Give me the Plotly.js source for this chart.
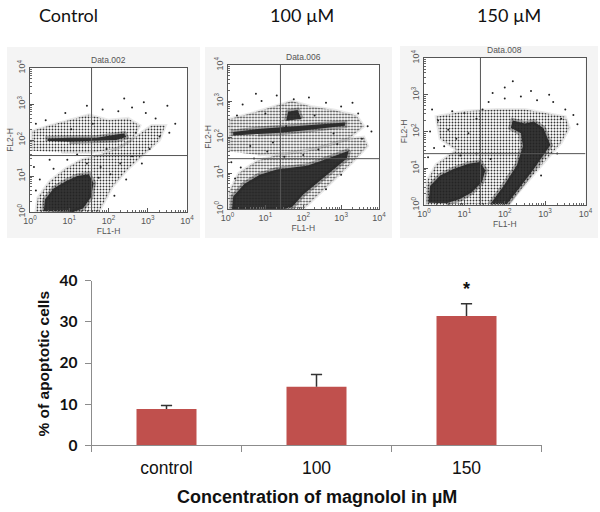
<!DOCTYPE html>
<html>
<head>
<meta charset="utf-8">
<script src="https://cdn.plot.ly/plotly-3.0.1.min.js"></script>
<style>html,body{margin:0;padding:0;background:#fff}#chart{width:600px;height:512px}</style>
</head>
<body>
<div id="chart"></div>
<script>
// ---------- Bar chart data ----------
const categories = ['control', '100', '150'];
const apoptosisPct = [8.8, 14.2, 31.4];
const apoptosisErr = [0.85, 3.0, 3.0];
const sigMarks = ['', '', '*'];

// ---------- Flow cytometry panels ----------
const panelTitles = ['Control', '100 µM', '150 µM'];
const dataLabels = ['Data.002', 'Data.006', 'Data.008'];
const quadFL1 = [37, 25, 25];
const quadFL2 = [37, 25, 25];
const decadeVals = [1, 10, 100, 1000, 10000];
const decadeText = ['10<sup>0</sup>', '10<sup>1</sup>', '10<sup>2</sup>', '10<sup>3</sup>', '10<sup>4</sup>'];

// density regions, estimated outlines as [log10 FL1, log10 FL2]
const ctrlLowHalo = [[0.15,0],[0.2,0.4],[0.5,0.85],[0.9,1.2],[1.3,1.45],[1.8,1.6],[2.3,1.8],[2.7,2.1],[3.1,2.4],[3.45,2.4],[3.3,2.0],[2.9,1.6],[2.5,1.2],[2.1,0.7],[1.9,0.3],[1.75,0]];
const ctrlLowCore = [[0.35,0.02],[0.38,0.35],[0.6,0.65],[0.9,0.85],[1.2,1.0],[1.5,1.05],[1.62,0.8],[1.55,0.4],[1.35,0.1],[1.1,0]];
const ctrlUpHalo = [[0.05,1.7],[0.05,2.25],[0.5,2.4],[1.0,2.55],[1.5,2.7],[2.0,2.55],[2.5,2.6],[2.8,2.4],[2.6,2.0],[2.2,1.75],[1.6,1.65],[0.8,1.65]];
const ctrlUpCore = [[0.45,1.97],[0.45,2.04],[1.0,2.06],[1.7,2.06],[2.2,2.15],[2.4,2.18],[2.45,2.08],[2.2,2.0],[1.6,1.98],[1.0,1.95]];
const ctrlDots = [[0.1,1.25],[0.25,0.9],[0.15,0.6],[0.6,1.2],[0.95,1.45],[1.2,1.6],[1.45,1.35],[1.8,1.25],[2.05,1.05],[2.3,1.35],[2.45,0.9],[2.6,1.55],[2.85,1.35],[3.05,1.75],[3.3,2.1],[3.55,2.2],[3.2,2.6],[2.95,2.75],[2.6,2.9],[2.25,2.8],[1.85,2.85],[1.45,2.95],[0.9,2.75],[0.4,2.55],[0.15,2.45],[3.5,2.95],[2.9,3.05],[1.75,0.95],[2.15,0.45],[1.95,1.75],[0.5,1.45],[1.05,2.3],[2.7,2.2],[3.7,2.45],[1.6,2.45],[2.4,3.15]];

const m100LowHalo = [[0.05,0],[0.05,0.5],[0.3,1.0],[0.8,1.35],[1.3,1.5],[2.0,1.6],[2.6,1.75],[3.2,1.95],[3.6,2.0],[3.7,1.75],[3.3,1.3],[2.8,0.8],[2.3,0.3],[2.0,0]];
const m100LowCore = [[0.12,0],[0.15,0.35],[0.45,0.7],[0.85,0.95],[1.3,1.1],[1.7,1.15],[2.1,1.2],[2.5,1.35],[2.9,1.5],[3.2,1.62],[3.15,1.4],[2.8,1.1],[2.4,0.75],[2.0,0.4],[1.7,0.05],[1.5,0]];
const m100UpHalo = [[0.05,1.6],[0.05,2.5],[0.6,2.65],[1.2,2.85],[1.7,3.0],[2.2,2.85],[2.8,2.75],[3.4,2.6],[3.6,2.3],[3.2,1.95],[2.4,1.7],[1.6,1.55],[0.8,1.5]];
const m100UpCore = [[0.15,2.04],[0.15,2.14],[0.8,2.22],[1.5,2.28],[2.0,2.31],[2.6,2.36],[3.1,2.4],[3.1,2.31],[2.6,2.24],[2.0,2.18],[1.4,2.12],[0.8,2.08]];
const m100Cluster = [[1.55,2.45],[1.6,2.7],[1.85,2.75],[1.95,2.5]];
const m100Dots = [[0.1,1.3],[0.35,1.15],[0.2,0.85],[0.7,1.4],[1.05,1.6],[1.5,1.45],[2.0,1.5],[2.4,1.65],[0.4,2.9],[0.9,3.0],[1.3,3.15],[1.75,3.05],[2.15,3.1],[2.6,2.95],[3.0,2.85],[3.45,2.65],[3.7,2.3],[3.55,1.95],[0.6,1.75],[1.2,1.85],[2.8,2.1],[2.3,2.6],[1.0,2.65],[0.25,2.6],[3.3,2.95],[1.55,2.3],[0.75,3.2],[3.8,2.15],[2.9,1.8],[3.0,0.95],[2.6,0.55]];

const m150Halo = [[0.05,0],[0.05,0.6],[0.3,1.1],[0.8,1.5],[0.4,1.8],[0.3,2.4],[1.0,2.55],[1.8,2.6],[2.5,2.6],[3.0,2.5],[3.5,2.4],[3.6,2.1],[3.4,1.7],[3.0,1.2],[2.6,0.7],[2.3,0.3],[2.1,0]];
const m150LowCore = [[0.11,0.06],[0.15,0.52],[0.4,0.8],[0.73,0.98],[1.1,1.12],[1.39,1.17],[1.52,0.94],[1.43,0.62],[1.18,0.34],[0.89,0.16],[0.56,0.05]];
const m150BandCore = [[1.64,0.02],[1.97,0.52],[2.3,1.08],[2.45,1.6],[2.4,1.95],[2.15,2.1],[2.2,2.3],[2.5,2.22],[2.72,2.27],[2.96,2.09],[3.13,1.63],[2.96,1.35],[2.72,0.98],[2.47,0.62],[2.22,0.25],[2.05,0.02]];
const m150Dots = [[0.1,1.3],[0.25,1.55],[0.15,2.0],[0.35,2.3],[0.6,2.05],[0.5,1.6],[0.8,1.8],[1.1,1.95],[1.3,2.35],[1.0,2.5],[0.7,2.55],[1.6,2.8],[2.0,2.9],[2.4,2.95],[2.8,2.85],[3.2,2.8],[3.5,2.6],[3.7,2.45],[3.8,2.2],[3.4,2.35],[2.0,3.2],[1.7,3.05],[2.65,3.1],[3.1,3.0],[1.3,1.4],[1.65,1.25],[0.9,1.35],[2.9,0.8],[3.3,1.4],[2.2,3.37],[0.2,2.6],[1.45,2.6]];

const panelHalos = [[ctrlLowHalo, ctrlUpHalo], [m100LowHalo, m100UpHalo], [m150Halo]];
const panelCores = [[ctrlLowCore, ctrlUpCore], [m100LowCore, m100UpCore, m100Cluster], [m150LowCore, m150BandCore]];
const panelDots = [ctrlDots, m100Dots, m150Dots];

// ---------- layout geometry (px in a 600x512 figure) ----------
const W = 600, H = 512;
const flowBoxes = [[30, 187, 68, 212], [227.5, 379, 65, 209], [424, 585.5, 58, 205]];
const imgBoxes = [[7, 200, 47, 238], [205, 392, 47, 238], [400, 598, 46, 238]];
const titleX = [68, 302, 509];

const pow = v => Math.pow(10, v);
const traces = [];
const layout = {
  width: W, height: H,
  margin: {l: 0, r: 0, t: 0, b: 0},
  paper_bgcolor: '#ffffff',
  plot_bgcolor: 'rgba(0,0,0,0)',
  showlegend: false,
  bargap: 0.6,
  shapes: [],
  annotations: []
};

const minorVals = [];
for (let d = 0; d < 4; d++) for (let k = 2; k <= 9; k++) minorVals.push(k * Math.pow(10, d));

const flowFont = {family: 'Liberation Sans, Arial, sans-serif', size: 8.5, color: '#555'};
const flowTick = {family: 'Liberation Sans, Arial, sans-serif', size: 9, color: '#555'};

for (let p = 0; p < 3; p++) {
  const xa = 'x' + (p + 1), ya = 'y' + (p + 1);
  const [x0, x1, y0, y1] = flowBoxes[p];
  const axCommon = {
    type: 'log', range: [0, 4], tickvals: decadeVals, ticktext: decadeText,
    ticks: 'inside', ticklen: 4, tickcolor: '#555', tickwidth: 1,
    showline: true, mirror: true, linecolor: '#555', linewidth: 1,
    showgrid: false, zeroline: false, fixedrange: true,
    tickfont: flowTick,
    minor: {tickvals: minorVals, ticks: 'inside', ticklen: 2, tickcolor: '#666', showgrid: false}
  };
  layout['xaxis' + (p + 1)] = Object.assign({}, axCommon, {
    domain: [x0 / W, x1 / W], anchor: ya,
    title: {text: 'FL1-H', font: flowFont, standoff: 0}
  });
  layout['yaxis' + (p + 1)] = Object.assign({}, axCommon, {
    domain: [1 - y1 / H, 1 - y0 / H], anchor: xa, tickangle: -90,
    title: {text: 'FL2-H', font: flowFont, standoff: 0}
  });

  const [ix0, ix1, iy0, iy1] = imgBoxes[p];
  layout.shapes.push({type: 'rect', xref: 'paper', yref: 'paper', layer: 'below',
    x0: ix0 / W, x1: ix1 / W, y0: 1 - iy1 / H, y1: 1 - iy0 / H,
    fillcolor: '#f4f4f4', line: {width: 0}});
  layout.shapes.push({type: 'rect', xref: 'paper', yref: 'paper', layer: 'below',
    x0: x0 / W, x1: x1 / W, y0: 1 - y1 / H, y1: 1 - y0 / H,
    fillcolor: '#ffffff', line: {width: 0}});

  panelHalos[p].forEach(poly => traces.push({
    type: 'scatter', mode: 'lines', xaxis: xa, yaxis: ya,
    x: poly.map(q => pow(q[0])), y: poly.map(q => pow(q[1])),
    fill: 'toself', fillcolor: 'rgba(0,0,0,0)',
    fillpattern: {shape: '.', size: 3, solidity: 0.3, fgcolor: '#333', bgcolor: 'rgba(0,0,0,0)'},
    line: {width: 3, color: 'rgba(80,80,80,0.12)'}, hoverinfo: 'skip'
  }));
  panelCores[p].forEach(poly => traces.push({
    type: 'scatter', mode: 'lines', xaxis: xa, yaxis: ya,
    x: poly.map(q => pow(q[0])), y: poly.map(q => pow(q[1])),
    fill: 'toself', fillcolor: 'rgba(0,0,0,0)',
    fillpattern: {shape: '.', size: 2, solidity: 0.8, fgcolor: '#1e1e1e', bgcolor: 'rgba(70,70,70,0.55)'},
    line: {width: 5, color: 'rgba(40,40,40,0.35)'}, hoverinfo: 'skip'
  }));
  traces.push({
    type: 'scatter', mode: 'markers', xaxis: xa, yaxis: ya,
    x: panelDots[p].map(q => pow(q[0])), y: panelDots[p].map(q => pow(q[1])),
    marker: {size: 2, color: '#222'}, hoverinfo: 'skip'
  });
  traces.push({type: 'scatter', mode: 'lines', xaxis: xa, yaxis: ya,
    x: [quadFL1[p], quadFL1[p]], y: [1, 10000], line: {color: '#555', width: 1}, hoverinfo: 'skip'});
  traces.push({type: 'scatter', mode: 'lines', xaxis: xa, yaxis: ya,
    x: [1, 10000], y: [quadFL2[p], quadFL2[p]], line: {color: '#555', width: 1}, hoverinfo: 'skip'});

  layout.annotations.push({xref: 'paper', yref: 'paper', x: (x0 + x1) / 2 / W, y: 1 - (y0 - 1) / H,
    xanchor: 'center', yanchor: 'bottom', text: dataLabels[p], showarrow: false, font: flowFont});
  layout.annotations.push({xref: 'paper', yref: 'paper', x: titleX[p] / W, y: 1 - 15 / H,
    xanchor: 'center', yanchor: 'middle', text: panelTitles[p], showarrow: false,
    font: {family: 'Lato, Carlito, sans-serif', size: 18, color: '#111'}});
}

// ---------- bar chart ----------
traces.push({
  type: 'bar', x: categories, y: apoptosisPct, xaxis: 'x4', yaxis: 'y4',
  marker: {color: '#C0504D', line: {width: 0}},
  hoverinfo: 'skip'
});
// upward-only error bars: stem from bar top to top of error
const errX = [], errY = [];
categories.forEach((c, i) => { errX.push(c, c, null); errY.push(apoptosisPct[i], apoptosisPct[i] + apoptosisErr[i], null); });
traces.push({type: 'scatter', mode: 'lines', x: errX, y: errY, xaxis: 'x4', yaxis: 'y4',
  line: {color: '#333', width: 1.5}, hoverinfo: 'skip'});
traces.push({type: 'scatter', mode: 'markers', x: categories, y: apoptosisPct.map((v, i) => v + apoptosisErr[i]),
  xaxis: 'x4', yaxis: 'y4', marker: {symbol: 'line-ew', size: 8, line: {color: '#333', width: 1.5}}, hoverinfo: 'skip'});

layout.xaxis4 = {
  domain: [91.5 / W, 541.5 / W], anchor: 'y4', type: 'category',
  range: [-0.5, 2.5],
  showline: true, linecolor: '#8c8c8c', linewidth: 1,
  ticks: 'outside', tickson: 'boundaries', ticklen: 6, tickcolor: '#8c8c8c',
  showgrid: false, zeroline: false, fixedrange: true,
  tickfont: {family: 'Liberation Sans, Arial, sans-serif', size: 17.5, color: '#111'},
  ticklabelstandoff: 7
};
layout.yaxis4 = {
  domain: [1 - 445.3 / H, 1 - 280.7 / H], anchor: 'x4', range: [0, 40], dtick: 10,
  showline: true, linecolor: '#8c8c8c', linewidth: 1,
  ticks: 'outside', ticklen: 6, tickcolor: '#8c8c8c',
  showgrid: false, zeroline: false, fixedrange: true,
  tickfont: {family: 'Lato, Carlito, sans-serif', size: 15.5, color: '#111', weight: 'bold'},
  ticklabelstandoff: 4
};
categories.forEach((c, i) => {
  if (sigMarks[i]) layout.annotations.push({
    xref: 'x4', yref: 'y4', x: i, y: apoptosisPct[i] + apoptosisErr[i] + 0.6,
    text: sigMarks[i], showarrow: false, xanchor: 'center', yanchor: 'bottom',
    font: {family: 'Liberation Sans, Arial, sans-serif', size: 18, color: '#111', weight: 'bold'}
  });
});
layout.annotations.push({xref: 'paper', yref: 'paper', x: 42.5 / W, y: 1 - 364 / H,
  text: '% of apoptotic cells', textangle: -90, showarrow: false, xanchor: 'center', yanchor: 'middle',
  font: {family: 'Liberation Sans, Arial, sans-serif', size: 15.5, color: '#111', weight: 'bold'}});
layout.annotations.push({xref: 'paper', yref: 'paper', x: 316.5 / W, y: 1 - 497 / H,
  text: 'Concentration of magnolol in µM', showarrow: false, xanchor: 'center', yanchor: 'middle',
  font: {family: 'Liberation Sans, Arial, sans-serif', size: 18, color: '#111', weight: 'bold'}});

Plotly.newPlot('chart', traces, layout, {staticPlot: true, displayModeBar: false});
</script>
</body>
</html>
